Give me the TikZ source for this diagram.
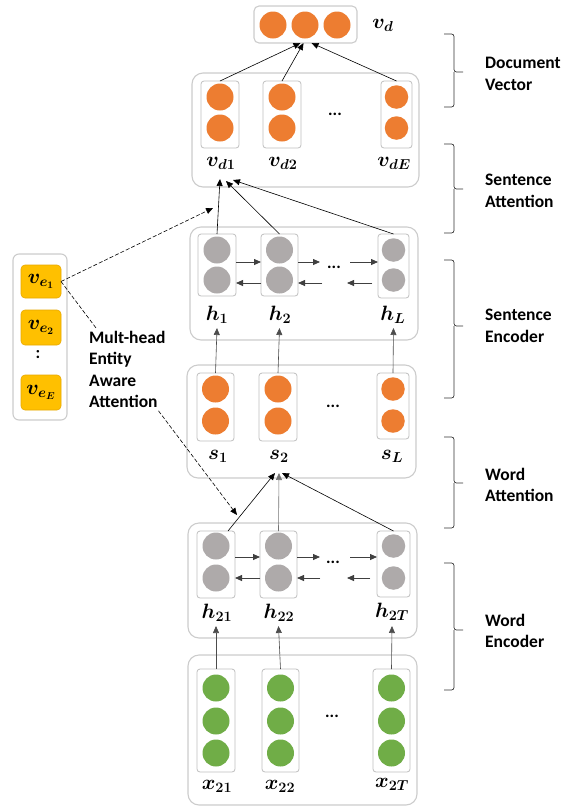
\documentclass[tikz,border=0pt]{standalone}
\usepackage[no-math]{fontspec}
\setmainfont{Carlito}
\usepackage{amsmath}
\usepackage{bm}
\usetikzlibrary{arrows.meta}
\definecolor{orC}{HTML}{ED7D31}
\definecolor{grC}{HTML}{AEAAAA}
\definecolor{gnC}{HTML}{70AD47}
\definecolor{yeC}{HTML}{FFC000}
\definecolor{yeB}{HTML}{E8A800}
\newcommand{\bv}[1]{\bm{#1}}
\begin{document}
\begin{tikzpicture}[x=1pt,y=-1pt,
  bigbox/.style={draw=black!20, line width=1.1pt, rounded corners=11pt, fill=white, inner sep=0pt, outer sep=0pt},
  cell/.style={draw=black!25, line width=0.8pt, rounded corners=3pt, fill=white, inner sep=0pt, outer sep=0pt},
  ycell/.style={draw=yeB, line width=0.6pt, rounded corners=4pt, fill=yeC, inner sep=0pt, outer sep=0pt, minimum width=40pt},
  ball/.style={circle, inner sep=0pt, outer sep=0pt, minimum size=27pt},
  sball/.style={circle, inner sep=0pt, outer sep=0pt, minimum size=23.5pt},
  lbl/.style={font=\fontsize{19.5}{22}\selectfont, inner sep=1pt},
  txt/.style={font=\fontsize{17.5}{21.5}\selectfont\bfseries, align=left, inner sep=0pt},
  dotsn/.style={font=\fontsize{17}{20}\selectfont\bfseries, inner sep=0pt},
  arr/.style={-{Triangle[length=7pt,width=6pt]}, line width=0.6pt, draw=black},
  garr/.style={-{Triangle[length=7pt,width=6pt]}, line width=0.8pt, draw=black!75, fill=black},
  darr/.style={-{Triangle[length=7pt,width=6pt]}, line width=0.6pt, dash pattern=on 4pt off 2pt},
  brc/.style={line width=0.7pt, draw=black!80, rounded corners=2.5pt},
]
\useasboundingbox (0,0) rectangle (571,807);

% ---------- document vector ----------
\node[bigbox, rounded corners=5pt, minimum width=103pt, minimum height=37pt] (vdbox) at (305.5,24.5) {};
\node[ball, fill=orC] (vdc1) at (273,25) {};
\node[ball, fill=orC] (vdc2) at (305,25) {};
\node[ball, fill=orC] (vdc3) at (337,25) {};
\node[lbl] (vd) at (383,25) {$\bv{v}_{\bv{d}}$};

% ---------- sentence attention level ----------
\node[bigbox, minimum width=227pt, minimum height=114pt] (docbox) at (305.5,130) {};
\node[cell, minimum width=38pt, minimum height=67pt] (vd1box) at (220,114.5) {};
\node[cell, minimum width=38pt, minimum height=67pt] (vd2box) at (282,114.5) {};
\node[cell, minimum width=31pt, minimum height=67pt] (vdEbox) at (396.5,114.5) {};
\node[ball, fill=orC] at (220,97) {};
\node[ball, fill=orC] at (220,128) {};
\node[ball, fill=orC] at (282,97) {};
\node[ball, fill=orC] at (282,128) {};
\node[sball, fill=orC] at (396.5,97) {};
\node[sball, fill=orC] at (396.5,128) {};
\node[dotsn] (vddots) at (335,114) {...};
\node[lbl] (vd1) at (221,163) {$\bv{v}_{\bv{d}\bv{1}}$};
\node[lbl] (vd2) at (283,163) {$\bv{v}_{\bv{d}\bv{2}}$};
\node[lbl] (vdE) at (394,163) {$\bv{v}_{\bv{d}\bv{E}}$};
\coordinate (vdt1) at (220,179);
\coordinate (vdt2) at (226,181);
\coordinate (vdt3) at (233,180);

% ---------- sentence encoder ----------
\node[bigbox, minimum width=228pt, minimum height=113pt] (sencbox) at (304,283.5) {};
\node[cell, minimum width=38pt, minimum height=62pt] (h1box) at (217,265) {};
\node[cell, minimum width=37pt, minimum height=62pt] (h2box) at (279.5,265) {};
\node[cell, minimum width=31pt, minimum height=64pt] (hLbox) at (393.5,266) {};
\node[ball, fill=grC] at (217,250) {};
\node[ball, fill=grC] at (217,280) {};
\node[ball, fill=grC] at (279.5,250) {};
\node[ball, fill=grC] at (279.5,280) {};
\node[sball, fill=grC] at (393.5,250) {};
\node[sball, fill=grC] at (393.5,280) {};
\node[dotsn] (hdots) at (334,267) {...};
\node[lbl] (h1) at (217,315) {$\bv{h}_{\bv{1}}$};
\node[lbl] (h2) at (280,315) {$\bv{h}_{\bv{2}}$};
\node[lbl] (hL) at (393,315) {$\bv{h}_{\bv{L}}$};
\coordinate (ha1) at (320,262);
\coordinate (ha2) at (350,262);
\coordinate (hb1) at (322,283);
\coordinate (hb2) at (372,283);
\coordinate (hb3) at (347,283);
\draw[garr] (h1box.east |- 0,262) -- (h2box.west |- 0,262);
\draw[garr] (h2box.east |- 0,262) -- (ha1);
\draw[garr] (ha2) -- (hLbox.west |- 0,262);
\draw[garr] (h2box.west |- 0,283) -- (h1box.east |- 0,283);
\draw[garr] (hb1) -- (h2box.east |- 0,283);
\draw[garr] (hb2) -- (hb3);
\coordinate (ht1) at (217,328);
\coordinate (ht2) at (279.5,328);
\coordinate (ht3) at (393.5,328);

% ---------- sentence embeddings ----------
\node[bigbox, minimum width=229pt, minimum height=113pt] (sembbox) at (301.5,421.5) {};
\node[cell, minimum width=37pt, minimum height=68pt] (s1box) at (215.5,407) {};
\node[cell, minimum width=38pt, minimum height=68pt] (s2box) at (278,407) {};
\node[cell, minimum width=32pt, minimum height=66pt] (sLbox) at (393,406) {};
\node[ball, fill=orC] at (215.5,389) {};
\node[ball, fill=orC] at (215.5,421) {};
\node[ball, fill=orC] at (278,389) {};
\node[ball, fill=orC] at (278,421) {};
\node[sball, fill=orC] at (393,389) {};
\node[sball, fill=orC] at (393,421) {};
\node[dotsn] (sdots) at (333,406) {...};
\node[lbl] (s1) at (218,456) {$\bv{s}_{\bv{1}}$};
\node[lbl] (s2) at (279,456) {$\bv{s}_{\bv{2}}$};
\node[lbl] (sL) at (392,456) {$\bv{s}_{\bv{L}}$};
\coordinate (st1) at (275,473);
\coordinate (st2) at (279,473);
\coordinate (st3) at (282,473);

% ---------- word encoder ----------
\node[bigbox, minimum width=229pt, minimum height=115pt] (wencbox) at (302.5,580.5) {};
\node[cell, minimum width=38pt, minimum height=67pt] (h21box) at (216,564.5) {};
\node[cell, minimum width=37pt, minimum height=67pt] (h22box) at (278.5,564.5) {};
\node[cell, minimum width=33pt, minimum height=66pt] (h2Tbox) at (393.5,564) {};
\node[ball, fill=grC] at (216,546) {};
\node[ball, fill=grC] at (216,578) {};
\node[ball, fill=grC] at (278.5,546) {};
\node[ball, fill=grC] at (278.5,578) {};
\node[sball, fill=grC] at (393.5,546) {};
\node[sball, fill=grC] at (393.5,578) {};
\node[dotsn] (wdots) at (333,562) {...};
\node[lbl] (h21) at (217,613) {$\bv{h}_{\bv{21}}$};
\node[lbl] (h22) at (279,613) {$\bv{h}_{\bv{22}}$};
\node[lbl] (h2T) at (392,612) {$\bv{h}_{\bv{2T}}$};
\coordinate (wa1) at (320,557);
\coordinate (wa2) at (350,557);
\coordinate (wb1) at (320,578);
\coordinate (wb2) at (370,578);
\coordinate (wb3) at (347,578);
\draw[garr] (h21box.east |- 0,557) -- (h22box.west |- 0,557);
\draw[garr] (h22box.east |- 0,557) -- (wa1);
\draw[garr] (wa2) -- (h2Tbox.west |- 0,557);
\draw[garr] (h22box.west |- 0,578) -- (h21box.east |- 0,578);
\draw[garr] (wb1) -- (h22box.east |- 0,578);
\draw[garr] (wb2) -- (wb3);
\coordinate (wt1) at (216,626);
\coordinate (wt2) at (278.5,626);
\coordinate (wt3) at (392,626);

% ---------- input words ----------
\node[bigbox, minimum width=229pt, minimum height=150pt] (inbox) at (302.5,730) {};
\node[cell, minimum width=38pt, minimum height=103pt] (x21box) at (216,720.5) {};
\node[cell, minimum width=37pt, minimum height=103pt] (x22box) at (280.5,720.5) {};
\node[cell, minimum width=37pt, minimum height=103pt] (x2Tbox) at (391.5,720.5) {};
\foreach \xx in {216,280.5,391.5}{
  \foreach \yy in {688,721,753}{
    \node[ball, fill=gnC] at (\xx,\yy) {};
  }
}
\node[dotsn] (xdots) at (332,716) {...};
\node[lbl] (x21) at (217,786) {$\bv{x}_{\bv{21}}$};
\node[lbl] (x22) at (280,786) {$\bv{x}_{\bv{22}}$};
\node[lbl] (x2T) at (392,784) {$\bv{x}_{\bv{2T}}$};

% ---------- vertical connectors ----------
\draw[arr] (vd1box.north) -- ([xshift=-5pt]vdbox.south);
\draw[arr] (vd2box.north) -- ([xshift=-2pt]vdbox.south);
\draw[arr] (vdEbox.north) -- ([xshift=6pt]vdbox.south);
\draw[arr] (h1box.north) -- (vdt1);
\draw[arr] (h2box.north) -- (vdt2);
\draw[arr] (hLbox.north) -- (vdt3);
\draw[arr, draw=black!70] (s1box.north) -- (ht1);
\draw[arr, draw=black!70] (s2box.north) -- (ht2);
\draw[arr, draw=black!70] (sLbox.north) -- (ht3);
\draw[arr] ([xshift=12pt]h21box.north) -- (st1);
\draw[arr, draw=black!55] (h22box.north) -- (st2);
\draw[arr] (h2Tbox.north) -- (st3);
\draw[arr, draw=black!70] (x21box.north) -- (wt1);
\draw[arr, draw=black!70] (x22box.north) -- (wt2);
\draw[arr, draw=black!70] (x2Tbox.north) -- (wt3);

% ---------- entity vectors ----------
\node[bigbox, rounded corners=6pt, minimum width=54pt, minimum height=166pt] (entbox) at (40,337) {};
\node[ycell, minimum height=33pt] (ve1) at (41,281.5) {\fontsize{19.5}{22}\selectfont$\bv{v}_{\bv{e}_{\bv{1}}}$};
\node[ycell, minimum height=35pt] (ve2) at (41,327.5) {\fontsize{19.5}{22}\selectfont$\bv{v}_{\bv{e}_{\bv{2}}}$};
\node[ycell, minimum height=35pt] (veE) at (41,392.5) {\fontsize{19.5}{22}\selectfont$\bv{v}_{\bv{e}_{\bv{E}}}$};
\node[dotsn] (vecolon) at (38,355) {:};

\coordinate (attS) at (213,208);
\coordinate (attW) at (237,515);
\draw[darr] (ve1.east) -- (attS);
\draw[darr] (ve1.east) -- (attW);
\node[txt, fill=white, anchor=west, inner sep=2pt] (mh) at (87,369.5) {Mult-head\\Entity\\Aware\\Attention};

% ---------- braces ----------
\draw[brc] (444,34) -- (454,34) -- (454,72) -- (463,72);
\draw[brc] (454,72) -- (454,107) -- (444,107);
\node[txt, anchor=west] (bDV) at (485,74) {Document\\Vector};

\draw[brc] (444,144) -- (454,144) -- (454,189) -- (463,189);
\draw[brc] (454,189) -- (454,233) -- (444,233);
\node[txt, anchor=west] (bSA) at (485,191) {Sentence\\Attention};

\draw[brc] (444,260) -- (454,260) -- (454,326) -- (463,326);
\draw[brc] (454,326) -- (454,398) -- (444,398);
\node[txt, anchor=west] (bSE) at (485,326) {Sentence\\Encoder};

\draw[brc] (444,437) -- (454,437) -- (454,483) -- (463,483);
\draw[brc] (454,483) -- (454,528) -- (444,528);
\node[txt, anchor=west] (bWA) at (485,485) {Word\\Attention};

\draw[brc] (444,563) -- (454,563) -- (454,630) -- (463,630);
\draw[brc] (454,630) -- (454,690) -- (444,690);
\node[txt, anchor=west] (bWE) at (485,631) {Word\\Encoder};
\end{tikzpicture}
\end{document}
